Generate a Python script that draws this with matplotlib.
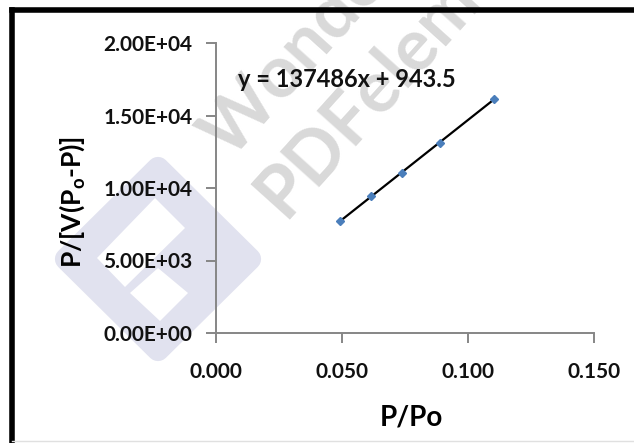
import matplotlib
matplotlib.use("Agg")
import matplotlib.pyplot as plt
from matplotlib.patches import Polygon
from matplotlib.lines import Line2D

# Data
p_po = [0.0494, 0.0617, 0.0739, 0.0889, 0.1103]
bet_y = [7724, 9448, 11034, 13103, 16138]
slope = 137486
intercept = 943.5
x_ticks = [0.000, 0.050, 0.100, 0.150]
x_tick_labels = ["0.000", "0.050", "0.100", "0.150"]
y_ticks = [0, 5000, 10000, 15000, 20000]
y_tick_labels = ["0.00E+00", "5.00E+03", "1.00E+04", "1.50E+04", "2.00E+04"]

plt.rcParams['font.family'] = ['Lato', 'DejaVu Sans']

W, H = 634, 443
fig = plt.figure(figsize=(W / 100, H / 100), dpi=100)

def fig_px(x, y):
    return x / W, 1 - y / H

# watermark logo (light diamond), behind the axes
logo = Polygon([fig_px(158, 168), fig_px(250, 259), fig_px(158, 350), fig_px(66, 259)],
               closed=True, transform=fig.transFigure, facecolor='#e1e2ef', edgecolor='#e1e2ef',
               linewidth=16, joinstyle='round', zorder=1)
fig.patches.append(logo)
hole1 = Polygon([fig_px(155, 198), fig_px(185, 228), fig_px(125, 287), fig_px(97, 258)],
                closed=True, transform=fig.transFigure, facecolor='white', edgecolor='none', zorder=1.5)
hole2 = Polygon([fig_px(158, 268), fig_px(188, 293), fig_px(160, 321), fig_px(130, 293)],
                closed=True, transform=fig.transFigure, facecolor='white', edgecolor='none', zorder=1.5)
fig.patches.append(hole1)
fig.patches.append(hole2)

# watermark text
fig.text(*fig_px(230, 161), 'Wondershare', fontsize=52, fontweight='bold', color='#d9d9d9',
         rotation=48, rotation_mode='anchor', ha='left', va='baseline', zorder=1)
fig.text(*fig_px(284, 220), 'PDFelement', fontsize=52, fontweight='bold', color='#d9d9d9',
         rotation=48, rotation_mode='anchor', ha='left', va='baseline', zorder=1)

ax = fig.add_axes([216 / W, 1 - 333 / H, (594 - 216) / W, (333 - 43) / H])
ax.set_zorder(5)
ax.patch.set_alpha(0)

# trend line and points
x_fit = [min(p_po), max(p_po)]
y_fit = [slope * v + intercept for v in x_fit]
ax.plot(x_fit, y_fit, color='black', linewidth=1.6, zorder=3)
ax.plot(p_po, bet_y, linestyle='none', marker='D', markersize=4.5,
        color='#4a7ebb', markeredgecolor='#4a7ebb', zorder=4)

ax.set_xlim(0, 0.150)
ax.set_ylim(0, 20000)
ax.set_xticks(x_ticks)
ax.set_xticklabels(x_tick_labels)
ax.set_yticks(y_ticks)
ax.set_yticklabels(y_tick_labels)
for s in ['top', 'right']:
    ax.spines[s].set_visible(False)
for s in ['left', 'bottom']:
    ax.spines[s].set_color('#868686')
    ax.spines[s].set_linewidth(1.4)
ax.tick_params(axis='both', direction='out', length=7, width=1.4, color='#868686',
               labelsize=15)
ax.tick_params(axis='x', pad=14)
ax.tick_params(axis='y', pad=10)
for lab in ax.get_xticklabels() + ax.get_yticklabels():
    lab.set_fontweight('bold')
    lab.set_color('#111111')

ax.set_xlabel('P/Po', fontsize=20, fontweight='bold')
ax.xaxis.set_label_coords(0.516, -0.245)
ax.set_ylabel(r'P/[V(P$_\mathregular{o}$-P)]', fontsize=19, fontweight='bold')
ax.yaxis.set_label_coords(-0.342, 0.452)

ax.text(0.0518, 17517, 'y = 137486x + 943.5', fontsize=17, fontweight='bold',
        color='#111111', ha='center', va='center', zorder=5)

# outer frame
fig.lines.append(Line2D([12 / W, 12 / W], [0, 1 - 10 / H], transform=fig.transFigure,
                        color='black', linewidth=4, zorder=10))
fig.lines.append(Line2D([12 / W, 1], [1 - 10 / H, 1 - 10 / H], transform=fig.transFigure,
                        color='black', linewidth=4, zorder=10))
fig.lines.append(Line2D([12 / W, 1], [1 - 441 / H, 1 - 441 / H], transform=fig.transFigure,
                        color='#e0e0e0', linewidth=1, zorder=10))

fig.savefig('out.png', dpi=100)
